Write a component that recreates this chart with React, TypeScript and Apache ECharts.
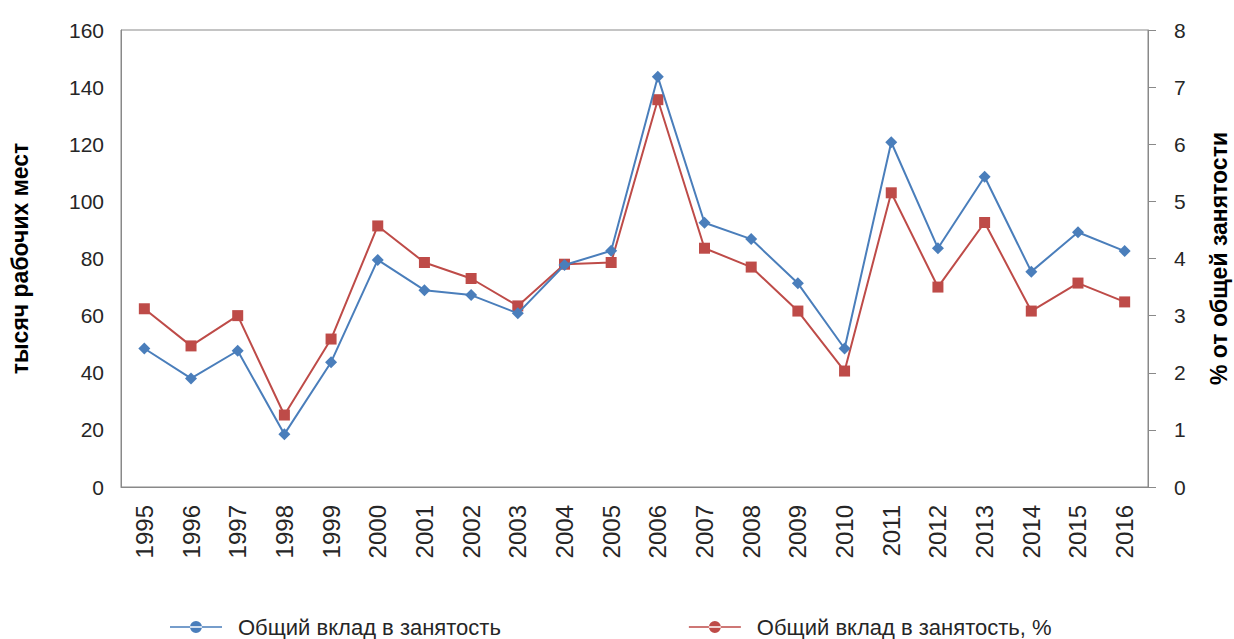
import React, { useEffect, useRef } from "react";
import * as echarts from "echarts";

const years = ["1995","1996","1997","1998","1999","2000","2001","2002","2003","2004","2005","2006","2007","2008","2009","2010","2011","2012","2013","2014","2015","2016"];
const jobsThousands = [48.5, 38.0, 47.7, 18.5, 43.7, 79.5, 68.9, 67.2, 60.8, 77.7, 82.7, 143.6, 92.5, 86.8, 71.3, 48.5, 120.7, 83.6, 108.6, 75.4, 89.2, 82.6];
const jobsPercent = [3.12, 2.47, 3.0, 1.26, 2.59, 4.57, 3.93, 3.65, 3.17, 3.9, 3.93, 6.78, 4.18, 3.85, 3.08, 2.03, 5.15, 3.5, 4.63, 3.08, 3.57, 3.24];
const seriesNames = ["Общий вклад в занятость", "Общий вклад в занятость, %"];
const leftAxisName = "тысяч рабочих мест";
const rightAxisName = "% от общей занятости";

const BLUE = "#4A7EBB";
const RED = "#BE4B48";
const AXIS = "#898989";
const TEXT = "#262626";
const FONT = "'Liberation Sans', Arial, sans-serif";

const legendIcon =
  "path://M0,6.2 L52,6.2 L52,7.8 L0,7.8 Z M20,7 A6,6 0 1,0 32,7 A6,6 0 1,0 20,7 Z";

export default function App() {
  const ref = useRef<HTMLDivElement>(null);
  useEffect(() => {
    document.body.style.margin = "0";
    if (!ref.current) return;
    const chart = echarts.init(ref.current, undefined, { renderer: "svg" });
    chart.setOption({
      animation: false,
      backgroundColor: "#ffffff",
      textStyle: { fontFamily: FONT },
      grid: {
        left: 121,
        right: 86,
        top: 30,
        bottom: 152,
        containLabel: false,
        outerBoundsMode: "none",
        show: true,
        borderColor: AXIS,
        borderWidth: 1,
        backgroundColor: "transparent",
      },
      legend: {
        left: 165,
        top: 611,
        itemWidth: 52,
        itemHeight: 14,
        itemGap: 188,
        textStyle: { fontSize: 22, color: TEXT, fontFamily: FONT, padding: [0, 0, 0, 11] },
        data: [
          { name: seriesNames[0], icon: legendIcon, itemStyle: { color: BLUE } },
          { name: seriesNames[1], icon: legendIcon, itemStyle: { color: RED } },
        ],
      },
      xAxis: {
        type: "category",
        data: years,
        boundaryGap: true,
        axisLine: { show: true, lineStyle: { color: AXIS, width: 1 } },
        axisTick: { show: false },
        axisLabel: { rotate: 90, fontSize: 24, color: TEXT, margin: 18, fontFamily: FONT },
        splitLine: { show: false },
      },
      yAxis: [
        {
          type: "value",
          min: 0,
          max: 160,
          interval: 20,
          position: "left",
          name: leftAxisName,
          nameLocation: "middle",
          nameRotate: 90,
          nameGap: 90,
          nameTextStyle: { fontSize: 23, fontWeight: "bold", color: "#000", fontFamily: FONT },
          axisLine: { show: true, lineStyle: { color: AXIS, width: 1 } },
          axisTick: { show: false },
          axisLabel: { fontSize: 21, color: TEXT, margin: 17, fontFamily: FONT },
          splitLine: { show: false },
        },
        {
          type: "value",
          min: 0,
          max: 8,
          interval: 1,
          position: "right",
          name: rightAxisName,
          nameLocation: "middle",
          nameRotate: 90,
          nameGap: 59,
          nameTextStyle: { fontSize: 23, fontWeight: "bold", color: "#000", fontFamily: FONT },
          axisLine: { show: true, lineStyle: { color: AXIS, width: 1 } },
          axisTick: { show: true, inside: false, length: 8, lineStyle: { color: AXIS } },
          axisLabel: { fontSize: 21, color: TEXT, margin: 26, fontFamily: FONT },
          splitLine: { show: false },
        },
      ],
      series: [
        {
          name: seriesNames[0],
          type: "line",
          yAxisIndex: 0,
          data: jobsThousands,
          symbol: "diamond",
          symbolSize: 12,
          itemStyle: { color: BLUE },
          lineStyle: { color: BLUE, width: 2 },
          z: 3,
        },
        {
          name: seriesNames[1],
          type: "line",
          yAxisIndex: 1,
          data: jobsPercent,
          symbol: "rect",
          symbolSize: 11,
          itemStyle: { color: RED },
          lineStyle: { color: RED, width: 2 },
          z: 2,
        },
      ],
    });
    return () => chart.dispose();
  }, []);
  return <div ref={ref} style={{ width: 1234, height: 639 }} />;
}
